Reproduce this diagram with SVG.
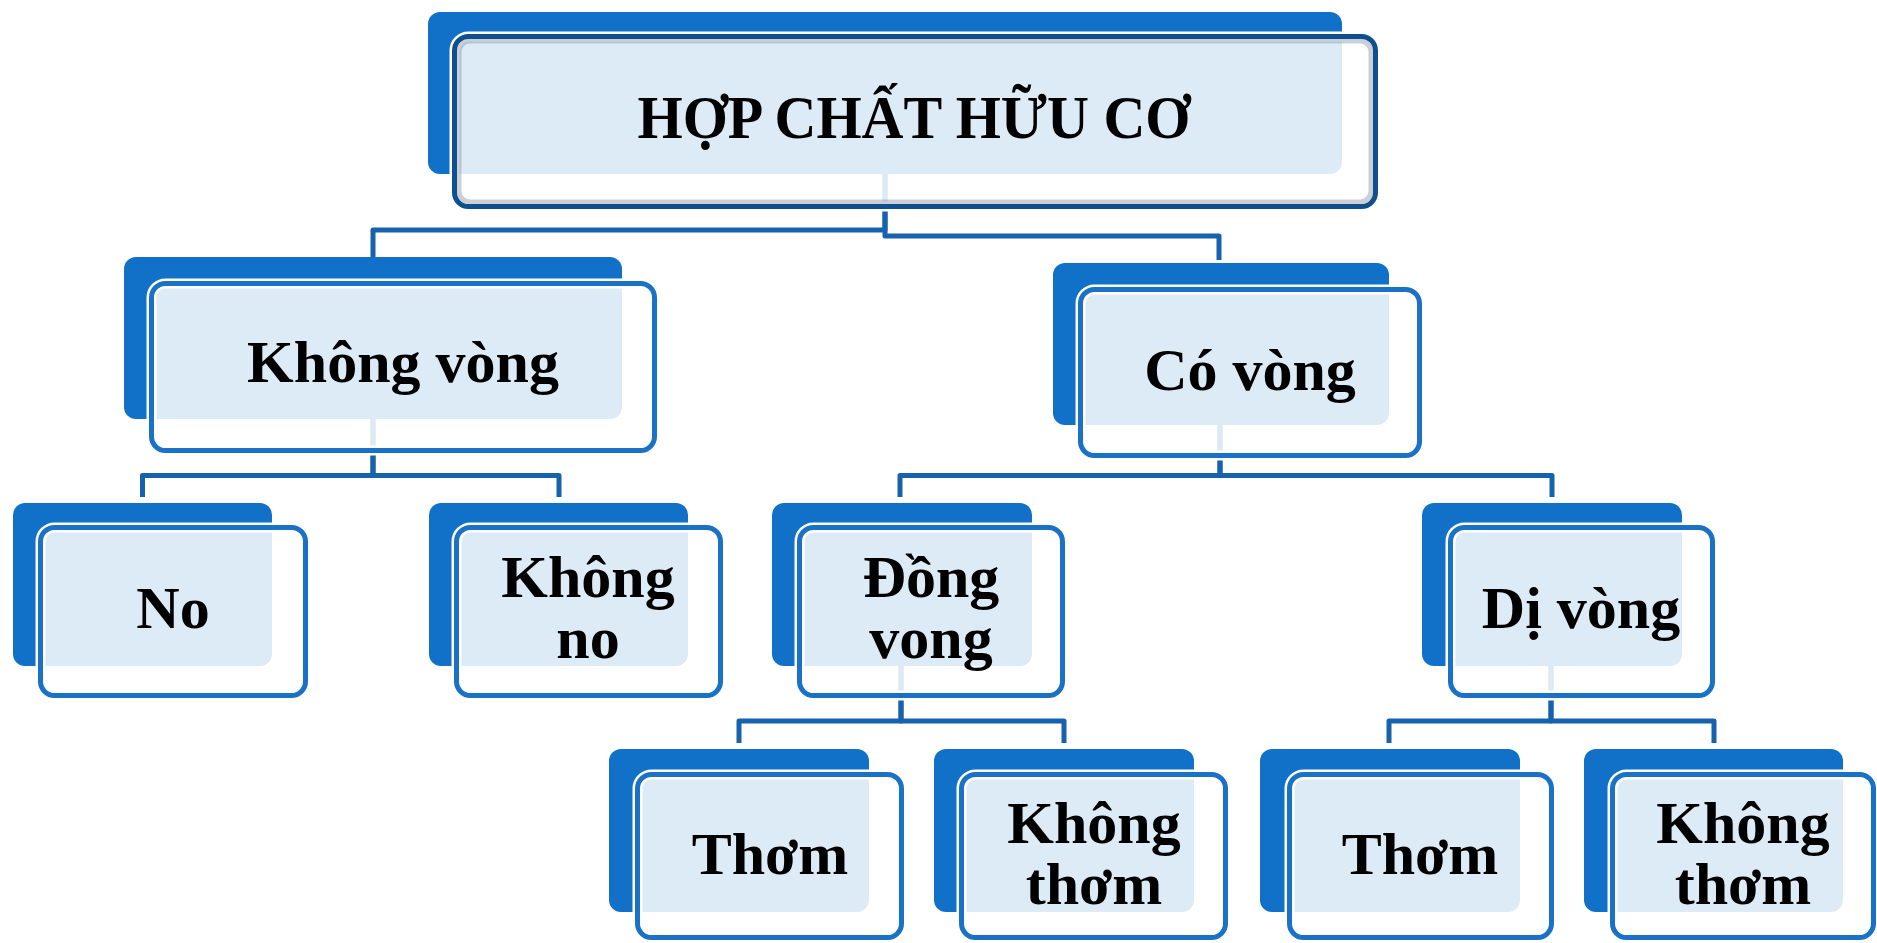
<svg xmlns="http://www.w3.org/2000/svg" width="1877" height="943" viewBox="0 0 1877 943">
<style>
.back{fill:#1170c8}
.face{fill:#ffffff;fill-opacity:0.86;stroke:#ffffff;stroke-width:10}
.rim{fill:none;stroke:#1a72c6;stroke-width:5}
.rimTop{fill:none;stroke:#0f4f8f;stroke-width:5}
.shade{fill:none;stroke:#8a96a3;stroke-opacity:0.45;stroke-width:5}
.lbl{font-family:"Liberation Serif","Times New Roman",serif;font-weight:bold;font-size:60px;fill:#000;text-anchor:middle}
.title{font-size:62px}
#connectors path{fill:none;stroke:#1662ad;stroke-width:5;stroke-linejoin:round}
</style>
<rect width="1877" height="943" fill="#ffffff"/>
<g id="connectors">
<path d="M885,174 V230 H373 V257"/>
<path d="M885,174 V236 H1219 V260"/>
<path d="M373,419 V475.5 H142.5 V497"/>
<path d="M373,419 V475.5 H559 V497"/>
<path d="M1220,425 V475.5 H900 V497"/>
<path d="M1220,425 V475.5 H1552 V497"/>
<path d="M901,666 V721 H739 V743"/>
<path d="M901,666 V721 H1064 V743"/>
<path d="M1551,666 V721 H1389 V743"/>
<path d="M1551,666 V721 H1714 V743"/>
</g>
<g id="node-root">
<rect class="back" x="428" y="12" width="914" height="162" rx="12"/>
<rect class="face" x="454.5" y="36.5" width="921" height="170" rx="14"/>
<rect class="shade" x="459" y="41" width="912" height="161" rx="11"/>
<rect class="rimTop" x="454.5" y="36.5" width="921" height="170" rx="14"/>
<text class="lbl title" x="914" y="138" textLength="553" lengthAdjust="spacingAndGlyphs">HỢP CHẤT HỮU CƠ</text>
</g>
<g id="node-khong-vong">
<rect class="back" x="124" y="257" width="498" height="162" rx="12"/>
<rect class="face" x="151.5" y="283.5" width="503" height="167" rx="14"/>
<rect class="rim" x="151.5" y="283.5" width="503" height="167" rx="14"/>
<text class="lbl" x="403" y="382">Không vòng</text>
</g>
<g id="node-co-vong">
<rect class="back" x="1053" y="263" width="336" height="162" rx="12"/>
<rect class="face" x="1080.5" y="289.5" width="339" height="166" rx="14"/>
<rect class="rim" x="1080.5" y="289.5" width="339" height="166" rx="14"/>
<text class="lbl" x="1250" y="390">Có vòng</text>
</g>
<g id="node-no">
<rect class="back" x="13" y="503" width="259" height="163" rx="12"/>
<rect class="face" x="40.5" y="527.5" width="265" height="168" rx="14"/>
<rect class="rim" x="40.5" y="527.5" width="265" height="168" rx="14"/>
<text class="lbl" x="173" y="628">No</text>
</g>
<g id="node-khong-no">
<rect class="back" x="429" y="503" width="259" height="163" rx="12"/>
<rect class="face" x="456.5" y="527.5" width="264" height="168" rx="14"/>
<rect class="rim" x="456.5" y="527.5" width="264" height="168" rx="14"/>
<text class="lbl"><tspan x="588" y="597">Không</tspan><tspan x="588" y="658">no</tspan></text>
</g>
<g id="node-dong-vong">
<rect class="back" x="772" y="503" width="260" height="163" rx="12"/>
<rect class="face" x="799.5" y="527.5" width="263" height="168" rx="14"/>
<rect class="rim" x="799.5" y="527.5" width="263" height="168" rx="14"/>
<text class="lbl"><tspan x="931" y="597">Đồng</tspan><tspan x="931" y="658">vong</tspan></text>
</g>
<g id="node-di-vong">
<rect class="back" x="1422" y="503" width="260" height="163" rx="12"/>
<rect class="face" x="1450.5" y="527.5" width="262" height="168" rx="14"/>
<rect class="rim" x="1450.5" y="527.5" width="262" height="168" rx="14"/>
<text class="lbl" x="1581" y="628">Dị vòng</text>
</g>
<g id="node-thom-1">
<rect class="back" x="609" y="749" width="260" height="163" rx="12"/>
<rect class="face" x="637.5" y="774.5" width="264" height="163" rx="14"/>
<rect class="rim" x="637.5" y="774.5" width="264" height="163" rx="14"/>
<text class="lbl" x="770" y="874">Thơm</text>
</g>
<g id="node-khong-thom-1">
<rect class="back" x="934" y="749" width="260" height="163" rx="12"/>
<rect class="face" x="961.5" y="774.5" width="264" height="163" rx="14"/>
<rect class="rim" x="961.5" y="774.5" width="264" height="163" rx="14"/>
<text class="lbl"><tspan x="1094" y="843">Không</tspan><tspan x="1094" y="904">thơm</tspan></text>
</g>
<g id="node-thom-2">
<rect class="back" x="1260" y="749" width="260" height="163" rx="12"/>
<rect class="face" x="1289.5" y="774.5" width="262" height="163" rx="14"/>
<rect class="rim" x="1289.5" y="774.5" width="262" height="163" rx="14"/>
<text class="lbl" x="1420" y="874">Thơm</text>
</g>
<g id="node-khong-thom-2">
<rect class="back" x="1584" y="749" width="259" height="163" rx="12"/>
<rect class="face" x="1612.5" y="774.5" width="261" height="163" rx="14"/>
<rect class="rim" x="1612.5" y="774.5" width="261" height="163" rx="14"/>
<text class="lbl"><tspan x="1743" y="843">Không</tspan><tspan x="1743" y="904">thơm</tspan></text>
</g>
</svg>
